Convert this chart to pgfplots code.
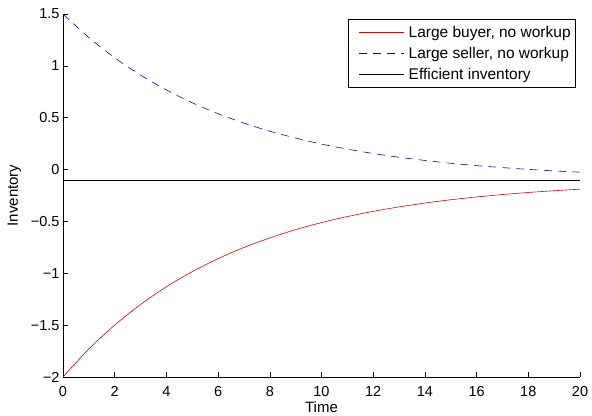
\documentclass[border=0pt]{standalone}
\usepackage{fontspec}
\setmainfont{Liberation Sans}
\usepackage{pgfplots}
\pgfplotsset{compat=1.18}
\usetikzlibrary{calc}
\definecolor{buyred}{RGB}{200,10,10}
\definecolor{sellblue}{RGB}{10,10,180}

\begin{document}
\begin{tikzpicture}
\begin{axis}[
  scale only axis,
  width=517pt, height=363pt,
  xmin=0, xmax=20, ymin=-2, ymax=1.5,
  axis lines=left,
  axis line style={-, black, line width=0.6pt},
  tick align=inside,
  tick style={black, line width=0.5pt},
  major tick length=5pt,
  xtick={0,2,...,20},
  ytick={-2,-1.5,-1,-0.5,0,0.5,1,1.5},
  yticklabels={−2,−1.5,−1,−0.5,0,0.5,1,1.5},
  /pgf/number format/assume math mode=true,
  tick label style={font=\fontsize{14.5}{17}\selectfont},
  xticklabel style={anchor=base, yshift=-20pt},
  xlabel={Time}, ylabel={Inventory},
  label style={font=\fontsize{15}{17}\selectfont},
  xlabel style={at={(axis description cs:0.5,0)}, anchor=base, yshift=-35.5pt},
  ylabel style={at={(axis description cs:0,0.5)}, anchor=base, yshift=45pt},
  legend style={at={(0.992,0.986)}, anchor=north east, draw=black,
    font=\fontsize{15.5}{17}\selectfont, inner xsep=3pt, inner ysep=4.5pt, row sep=4.5pt,
    cells={anchor=west}},
  legend image code/.code={\path (-8pt,0pt) (47pt,0pt);
    \draw[#1] (0pt,0pt) -- (45pt,0pt);},
  clip=false,
]
\addplot[buyred, line width=0.6pt, smooth] coordinates {
  (0,-2.000) (1,-1.730) (2,-1.499) (3,-1.301) (4,-1.130) (5,-0.984)
  (6,-0.859) (7,-0.751) (8,-0.659) (9,-0.579) (10,-0.511) (11,-0.453)
  (12,-0.403) (13,-0.360) (14,-0.323) (15,-0.291) (16,-0.264) (17,-0.241)
  (18,-0.221) (19,-0.204) (20,-0.189)};
\addlegendentry{Large buyer, no workup}
\addplot[sellblue, line width=0.6pt, dash pattern=on 8pt off 6pt, smooth] coordinates {
  (0,1.500) (1,1.273) (2,1.078) (3,0.911) (4,0.768) (5,0.644)
  (6,0.539) (7,0.448) (8,0.370) (9,0.304) (10,0.246) (11,0.197)
  (12,0.155) (13,0.119) (14,0.088) (15,0.061) (16,0.038) (17,0.019)
  (18,0.002) (19,-0.013) (20,-0.025)};
\addlegendentry{Large seller, no workup}
\addplot[black, line width=0.6pt] coordinates {(0,-0.1) (20,-0.1)};
\addlegendentry{Efficient inventory}
\end{axis}
\path ($(current axis.south west)+(-63pt,-37pt)$) rectangle ($(current axis.north east)+(12pt,14pt)$);
\end{tikzpicture}
\end{document}
